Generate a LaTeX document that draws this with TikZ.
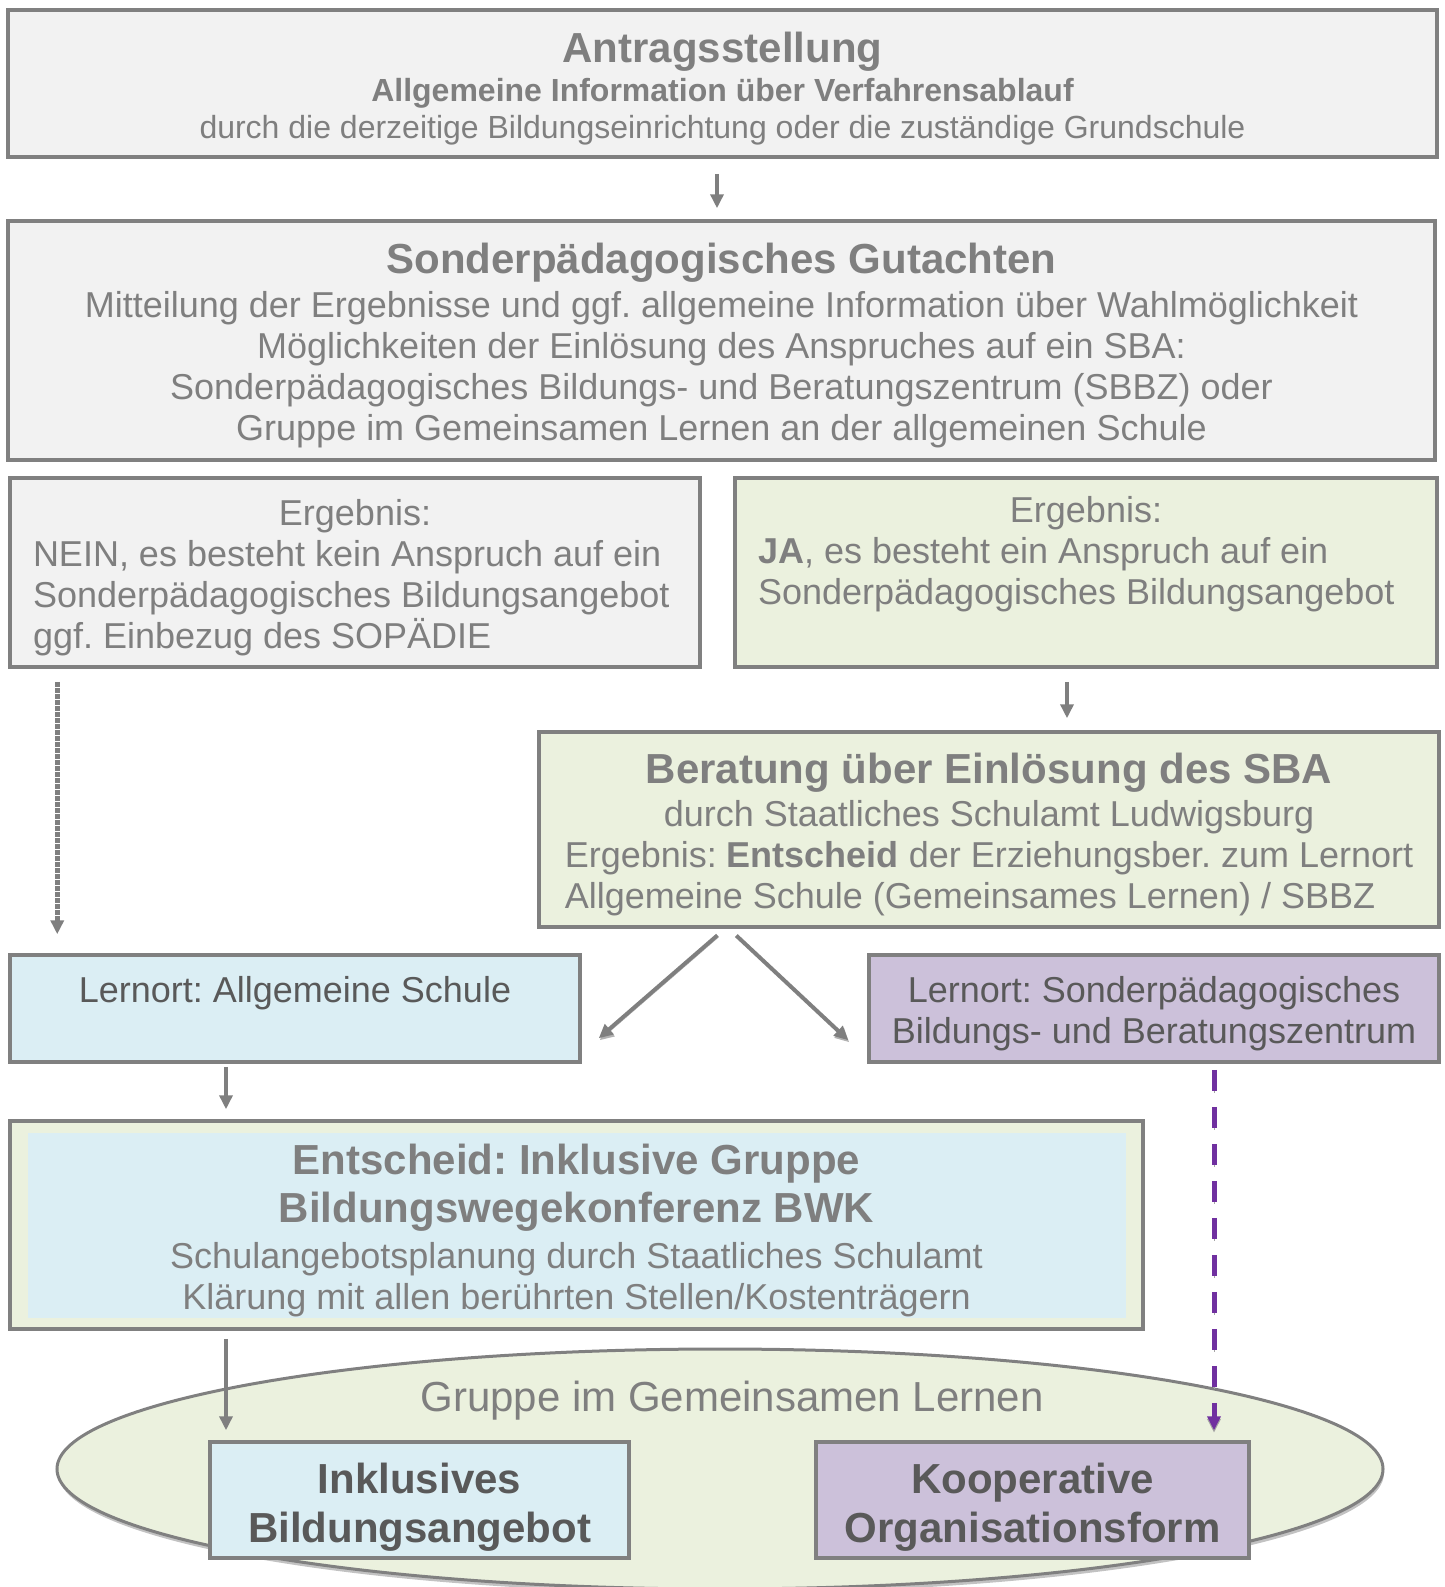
\documentclass[tikz,border=0pt]{standalone}
\usepackage{fontspec}
\setmainfont{Liberation Sans}
\usepackage{tikz}
\usetikzlibrary{arrows.meta,shapes.geometric,shadows}
\frenchspacing

\definecolor{rahmen}{HTML}{808080}
\definecolor{schrift}{HTML}{7F7F7F}
\definecolor{dunkel}{HTML}{595959}
\definecolor{grauf}{HTML}{F2F2F2}
\definecolor{gruenf}{HTML}{EBF1DE}
\definecolor{blauf}{HTML}{DBEEF4}
\definecolor{lilaf}{HTML}{CCC1DA}
\definecolor{lila}{HTML}{7030A0}

\newcommand{\fsH}{\fontsize{42}{48}\selectfont\bfseries}
\newcommand{\fsN}{\fontsize{36}{41}\selectfont}
\newcommand{\fsS}{\fontsize{32}{37}\selectfont}
% extra height on the first line, moves the text block down by half of #1
\newcommand{\tief}[1][10pt]{\rule{0pt}{\dimexpr.73em+#1\relax}}

\tikzstyle{box_g} = [rectangle, draw=rahmen, line width=3.5pt, fill=grauf, text=schrift, align=center, inner sep=0pt, font=\fsN]
\tikzstyle{box_gr} = [box_g, fill=gruenf]
\tikzstyle{box_b} = [box_g, fill=blauf, text=dunkel]
\tikzstyle{box_l} = [box_g, fill=lilaf, text=dunkel]
\tikzstyle{pfeil} = [->, draw=schrift, line width=4pt]
\tikzstyle{pfeil_d} = [pfeil, line width=4.5pt, dash pattern=on 5pt off 1pt]
\tikzstyle{pfeil_s} = [pfeil, preaction={draw=schrift!60, transform canvas={xshift=1pt,yshift=-2pt}}]
\tikzstyle{pfeil_l} = [->, draw=lila, line width=5pt, dash pattern=on 21pt off 16pt,
    preaction={draw=schrift!70, dash pattern=on 21pt off 16pt, transform canvas={yshift=-2.5pt}}]

\begin{document}
\begin{tikzpicture}[x=1pt, y=-1pt, >={Triangle[length=14pt,width=13pt]}]
\useasboundingbox (0,0) rectangle (1445,1587);

\node [box_g, minimum width=1429pt, minimum height=147pt, font=\fsS] (antrag) at (722.5,83.5)
    {{\fsH\tief Antragsstellung}\\[1.5pt]
     \textbf{Allgemeine Information über Verfahrensablauf}\\
     durch die derzeitige Bildungseinrichtung oder die zuständige Grundschule};
\node [box_g, minimum width=1427pt, minimum height=239pt] (gutachten) at (721.5,340.5)
    {{\fsH\tief Sonderpädagogisches Gutachten}\\[3pt]
     Mitteilung der Ergebnisse und ggf. allgemeine Information über Wahlmöglichkeit\\
     Möglichkeiten der Einlösung des Anspruches auf ein SBA:\\
     Sonderpädagogisches Bildungs- und Beratungszentrum (SBBZ) oder\\
     Gruppe im Gemeinsamen Lernen an der allgemeinen Schule};
\node [box_g, minimum width=690pt, minimum height=189pt, text width=644pt, align=flush left] (nein) at (355,572.5)
    {\makebox[\linewidth][c]{\tief Ergebnis:}\\
     NEIN, es besteht kein Anspruch auf ein\\
     Sonderpädagogisches Bildungsangebot\\
     ggf. Einbezug des SOPÄDIE};
\node [box_gr, minimum width=702pt, minimum height=189pt, text width=656pt, align=flush left] (ja) at (1086,572.5)
    {\makebox[\linewidth][c]{\tief Ergebnis:}\\
     \textbf{JA}, es besteht ein Anspruch auf ein\\
     Sonderpädagogisches Bildungsangebot\\
     \strut};
\node [box_gr, minimum width=900pt, minimum height=195pt] (beratung) at (989,829.5)
    {{\fsH\tief Beratung über Einlösung des SBA}\\[2pt]
     durch Staatliches Schulamt Ludwigsburg\\
     Ergebnis: \textbf{Entscheid} der Erziehungsber. zum Lernort\\
     \rlap{Allgemeine Schule (Gemeinsames Lernen) / SBBZ}\phantom{Ergebnis: \textbf{Entscheid} der Erziehungsber. zum Lernort}};
\node [box_b, minimum width=570pt, minimum height=107pt] (lernort_a) at (295,1008.5)
    {\tief[14pt]Lernort: Allgemeine Schule\\ \strut};
\node [box_l, minimum width=570pt, minimum height=107pt] (lernort_s) at (1154,1008.5)
    {\tief[10pt]Lernort: Sonderpädagogisches\\ Bildungs- und Beratungszentrum};
\node [box_gr, minimum width=1133pt, minimum height=208pt,
       path picture={\fill[blauf] ([xshift=18pt,yshift=-12pt]path picture bounding box.north west)
                     rectangle ([xshift=-17pt,yshift=11pt]path picture bounding box.south east);}] (bwk) at (576.5,1225)
    {{\fsH\tief Entscheid: Inklusive Gruppe}\\[7pt]
     {\fsH Bildungswegekonferenz BWK}\\[5pt]
     Schulangebotsplanung durch Staatliches Schulamt\\
     Klärung mit allen berührten Stellen/Kostenträgern};

% Gemeinsames Lernen
\node [ellipse, draw=rahmen, line width=3pt, fill=gruenf, minimum width=1326pt, minimum height=240pt, inner sep=0pt,
       drop shadow={shadow xshift=1pt, shadow yshift=-4pt, fill=gray!80, opacity=0.6}] (gruppe) at (720,1469) {};
\node [text=schrift, font=\fontsize{42}{48}\selectfont] (gruppe_txt) at (732,1401) {Gruppe im Gemeinsamen Lernen};
\node [box_b, minimum width=419pt, minimum height=116pt, font=\fontsize{42}{49}\selectfont\bfseries] (inklusiv) at (419.5,1500)
    {\tief[14pt]Inklusives\\ Bildungsangebot};
\node [box_l, minimum width=433pt, minimum height=116pt, font=\fontsize{42}{49}\selectfont\bfseries] (kooperativ) at (1032.5,1500)
    {\tief[14pt]Kooperative\\ Organisationsform};

\draw [pfeil, shorten <=15pt, shorten >=11pt] ([xshift=-5.5pt]antrag.south) -- ([xshift=-5.5pt]antrag.south |- gutachten.north);
\draw [pfeil_d, shorten <=13pt, shorten >=19pt] ([xshift=49pt]nein.south west) -- ([xshift=49pt]nein.south west |- lernort_a.north);
\draw [pfeil, shorten <=13pt, shorten >=12pt] ([xshift=-19pt]ja.south) -- ([xshift=-19pt]ja.south |- beratung.north);
\draw [pfeil_s, shorten <=10pt] ([xshift=-264pt]beratung.south) -- ([shift={(17,85)}]lernort_a.north east);
\draw [pfeil_s, shorten <=10pt] ([xshift=-260pt]beratung.south) -- ([shift={(-19,87)}]lernort_s.north west);
\draw [pfeil, shorten <=3pt, shorten >=10pt] ([xshift=-69pt]lernort_a.south) -- ([xshift=-69pt]lernort_a.south |- bwk.north);
\draw [pfeil, shorten <=8pt, shorten >=10pt] ([xshift=-350.5pt]bwk.south) -- ([xshift=-350.5pt]bwk.south |- inklusiv.north);
\draw [pfeil_l, shorten <=6pt, shorten >=10pt] ([xshift=60pt]lernort_s.south) -- ([xshift=60pt]lernort_s.south |- kooperativ.north);
\end{tikzpicture}
\end{document}
